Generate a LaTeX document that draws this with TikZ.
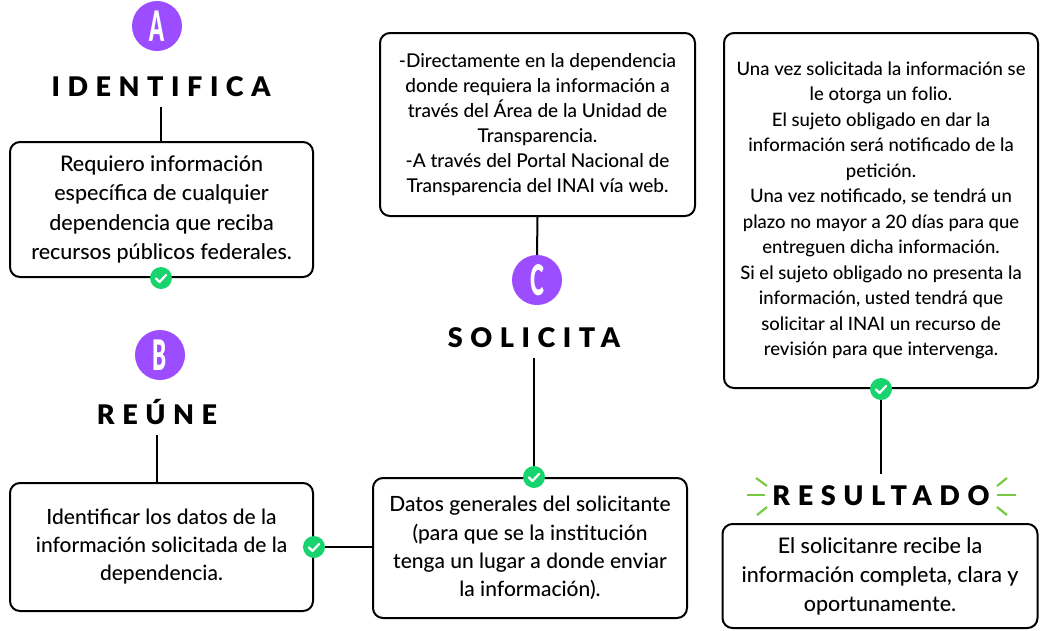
\documentclass[tikz,border=0pt]{standalone}
\usepackage{fontspec}
\usepackage{graphicx}
\setmainfont{Lato Medium}
\newfontfamily\headfont[LetterSpace=28, BoldFont={Lato Black}]{Lato}
\newfontfamily\badgefont{Lato Black}
\usetikzlibrary{calc}
\definecolor{badge}{HTML}{9B4DFF}
\definecolor{ckgreen}{HTML}{17D46F}
\definecolor{raygreen}{HTML}{7AC943}
\begin{document}
\begin{tikzpicture}[x=1pt,y=-1pt,
 box/.style={draw=black, line width=2pt, rounded corners=10pt, align=center, inner sep=0pt},
 head/.style={font=\headfont\bfseries\fontsize{27}{27}\selectfont, text height=20pt, text depth=0pt, inner ysep=11pt, inner xsep=0pt},
 badgec/.style={circle, fill=badge, minimum size=50pt, inner sep=0pt, text=white, font=\badgefont\fontsize{42}{42}\selectfont},
 chk/.style={circle, fill=ckgreen, minimum size=22pt, inner sep=0pt, path picture={\draw[white, line width=2.2pt, line cap=round, line join=round] ([shift={(-5,0.5)}]path picture bounding box.center) -- ++(3.5,3.5) -- ++(6.5,-7);}},
 conn/.style={line width=2pt},
 ray/.style={draw=raygreen, line width=2.2pt}
]
\useasboundingbox (0,0) rectangle (1045,630);

% boxes
\node[box, minimum width=303pt, minimum height=135pt, font=\fontsize{21.5}{29.5}\selectfont] (b1) at (161.5,209.5)
 {Requiero información\\específica de cualquier\\dependencia que reciba\\recursos públicos federales.};
\node[box, minimum width=315pt, minimum height=183pt, font=\fontsize{19}{25}\selectfont] (b2) at (537.5,124.5)
 {-Directamente en la dependencia\\donde requiera la información a\\través del Área de la Unidad de\\Transparencia.\\-A través del Portal Nacional de\\Transparencia del INAI vía web.};
\node[box, minimum width=314pt, minimum height=355pt, font=\fontsize{18.5}{25.5}\selectfont] (b3) at (881,210.5)
 {Una vez solicitada la información se\\le otorga un folio.\\El sujeto obligado en dar la\\información será notificado de la\\petición.\\Una vez notificado, se tendrá un\\plazo no mayor a 20 días para que\\entreguen dicha información.\\Si el sujeto obligado no presenta la\\información, usted tendrá que\\solicitar al INAI un recurso de\\revisión para que intervenga.};
\node[box, minimum width=303pt, minimum height=128pt, font=\fontsize{21}{28}\selectfont] (b4) at (161.5,547)
 {Identificar los datos de la\\información solicitada de la\\dependencia.};
\node[box, minimum width=314pt, minimum height=140pt, font=\fontsize{21}{28.3}\selectfont] (b5) at (530,548)
 {Datos generales del solicitante\\(para que se la institución\\tenga un lugar a donde enviar\\la información).};
\node[box, minimum width=315pt, minimum height=104pt, font=\fontsize{21.5}{29}\selectfont] (b6) at (880,576)
 {El solicitanre recibe la\\información completa, clara y\\oportunamente.};

% badges and headings
\node[badgec] (bA) at (157,26) {\scalebox{0.5}[1]{A}};
\node[head] (hA) at (161,86) {IDENTIFICA};
\node[badgec] (bB) at (160,355) {\scalebox{0.5}[1]{B}};
\node[head] (hB) at (157,414) {REÚNE};
\node[badgec] (bC) at (537,280) {\scalebox{0.5}[1]{C}};
\node[head] (hC) at (534,337) {SOLICITA};
\node[head] (hR) at (881,495) {RESULTADO};

% connectors
\draw[conn] (hA.south) -- (hA.south |- b1.north);
\draw[conn] (hB.south) -- (hB.south |- b4.north);
\draw[conn] (b4.east) -- (b4.east -| b5.west);
\draw[conn] (b2.south) -- (bC.north);
\draw[conn] (hC.south) -- (hC.south |- b5.north);
\draw[conn] ($(b2.east)+(0,8.5)$) -- ($(b2.east)+(0,8.5)$ -| b3.west);
\draw[conn] (b3.south -| hR.north) -- (hR.north);

% checks
\node[chk] (c1) at (b1.south -| hA.south) {};
\node[chk] (c4) at (b4.east) {};
\node[chk] (c5) at (hC.south |- b5.north) {};
\node[chk] (c3) at (b3.south -| hR.north) {};

% rays
\draw[ray] ($(hR.center)+(-134,0)$) -- ($(hR.center)+(-116,0)$);
\draw[ray] ($(hR.center)+(-125,-17)$) -- ($(hR.center)+(-114,-9)$);
\draw[ray] ($(hR.center)+(-124,20)$) -- ($(hR.center)+(-114,12)$);
\draw[ray] ($(hR.center)+(116,0)$) -- ($(hR.center)+(135,0)$);
\draw[ray] ($(hR.center)+(116,-9)$) -- ($(hR.center)+(126,-17)$);
\draw[ray] ($(hR.center)+(116,12)$) -- ($(hR.center)+(126,20)$);
\end{tikzpicture}
\end{document}
